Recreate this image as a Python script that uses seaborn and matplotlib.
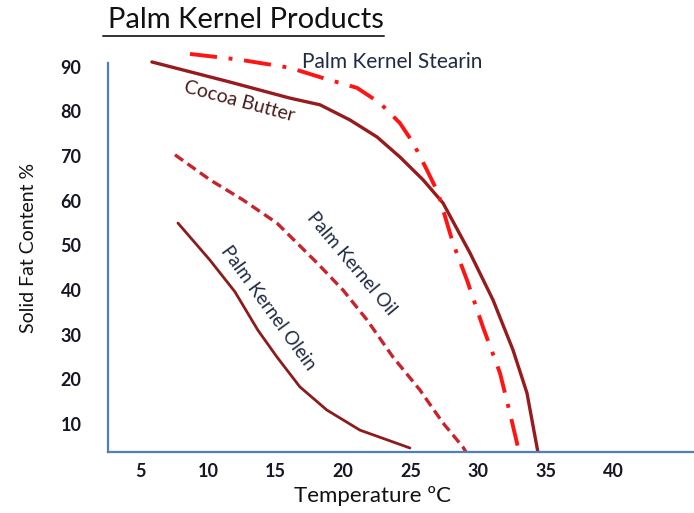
import numpy as np
import pandas as pd
import matplotlib
matplotlib.use("Agg")
import matplotlib.pyplot as plt
from matplotlib.lines import Line2D
import seaborn as sns

# Solid fat content curves (temperature in °C, SFC in %)
cocoa_t = [5.85, 11.63, 16.07, 18.30, 20.52, 22.52, 24.22, 25.93, 27.41,
           29.41, 31.11, 32.59, 33.63, 34.37, 34.44]
cocoa_sfc = [91.1, 86.6, 83.0, 81.5, 78.1, 74.3, 69.8, 64.7, 59.5,
             48.3, 37.8, 26.6, 16.9, 4.8, 3.7]

stearin_t = [8.67, 12.37, 16.07, 18.52, 21.04, 22.74, 24.22, 25.19, 26.22,
             27.04, 28.15, 29.19, 30.37, 31.63, 32.37, 32.96, 33.04]
stearin_sfc = [92.9, 91.6, 89.8, 87.5, 85.3, 81.9, 77.4, 73.0, 66.9,
               61.8, 50.5, 42.2, 31.7, 21.4, 12.4, 4.8, 3.7]

pko_t = [7.56, 10.15, 12.59, 15.11, 18.07, 20.00, 21.78, 23.70, 25.70, 27.41, 28.89, 29.11]
pko_sfc = [70.3, 64.7, 60.2, 55.0, 46.1, 40.0, 33.3, 25.0, 17.6, 10.2, 4.8, 3.7]

olein_t = [7.78, 10.15, 12.00, 13.70, 15.11, 16.81, 18.81, 21.26, 24.96]
olein_sfc = [55.0, 46.7, 39.6, 31.0, 25.0, 18.3, 13.1, 8.6, 4.6]

x_ticks = [5, 10, 15, 20, 25, 30, 35, 40]
y_ticks = [10, 20, 30, 40, 50, 60, 70, 80, 90]

sns.set_theme(style="white")
plt.rcParams['font.family'] = ['Lato', 'DejaVu Sans']

fig = plt.figure(figsize=(6.94, 5.13), dpi=100)
ax = fig.add_axes([108 / 694, 1 - 452 / 513, 586 / 694, 407 / 513])

dark_red = '#971a1d'
curves = [
    (cocoa_t, cocoa_sfc, dark_red, '-', 2.4),
    (stearin_t, stearin_sfc, '#ff1414', (0, (7, 3, 1, 3)), 2.8),
    (pko_t, pko_sfc, '#c8232a', (0, (3, 1.6)), 2.4),
    (olein_t, olein_sfc, '#8a1c1c', '-', 2.0),
]
for t, s, col, ls, lw in curves:
    df = pd.DataFrame({'t': t, 'sfc': s})
    sns.lineplot(data=df, x='t', y='sfc', sort=False, color=col,
                 linestyle=ls, linewidth=lw, ax=ax)

ax.set_xlim(2.6, 46.0)
ax.set_ylim(3.7, 94.9)
ax.set_xticks(x_ticks)
ax.set_yticks(y_ticks)
ax.tick_params(axis='x', length=0, pad=8, labelsize=13, labelcolor='#161625')
ax.tick_params(axis='y', length=0, pad=19, labelsize=13, labelcolor='#161625')
for lab in ax.get_xticklabels() + ax.get_yticklabels():
    lab.set_fontweight('bold')

for side in ['top', 'right']:
    ax.spines[side].set_visible(False)
for side in ['left', 'bottom']:
    ax.spines[side].set_color('#4f7fbf')
    ax.spines[side].set_linewidth(1.6)
ax.spines['left'].set_bounds(3.7, 90.9)

ax.set_xlabel('Temperature ºC', fontsize=16, color='#111111', va='center')
ax.xaxis.set_label_coords((372 - 108) / 586, -(496 - 452) / 407)
ax.set_ylabel('Solid Fat Content %', fontsize=14, color='#111111', va='center')
ax.yaxis.set_label_coords(-(108 - 29) / 586, (452 - 248) / 407)

txt_col = '#1f2a44'
ax.text(12.3, 82.2, 'Cocoa Butter', rotation=-15, ha='center', va='center',
        fontsize=14, color='#4a1c1c')
ax.text(17.0, 91.1, 'Palm Kernel Stearin', ha='left', va='center',
        fontsize=15, color=txt_col)
ax.text(20.6, 45.8, 'Palm Kernel Oil', rotation=-50, ha='center', va='center',
        fontsize=13.5, color=txt_col)
ax.text(14.5, 36.0, 'Palm Kernel Olein', rotation=-54, ha='center', va='center',
        fontsize=13.5, color=txt_col)

fig.text(108 / 694, 1 - 20 / 513, 'Palm Kernel Products', ha='left', va='center',
         fontsize=21, color='#111111')
fig.add_artist(Line2D([103 / 694, 384 / 694], [1 - 36 / 513, 1 - 36 / 513],
                      color='#333333', linewidth=1.4))

fig.savefig('out.png', dpi=100)
